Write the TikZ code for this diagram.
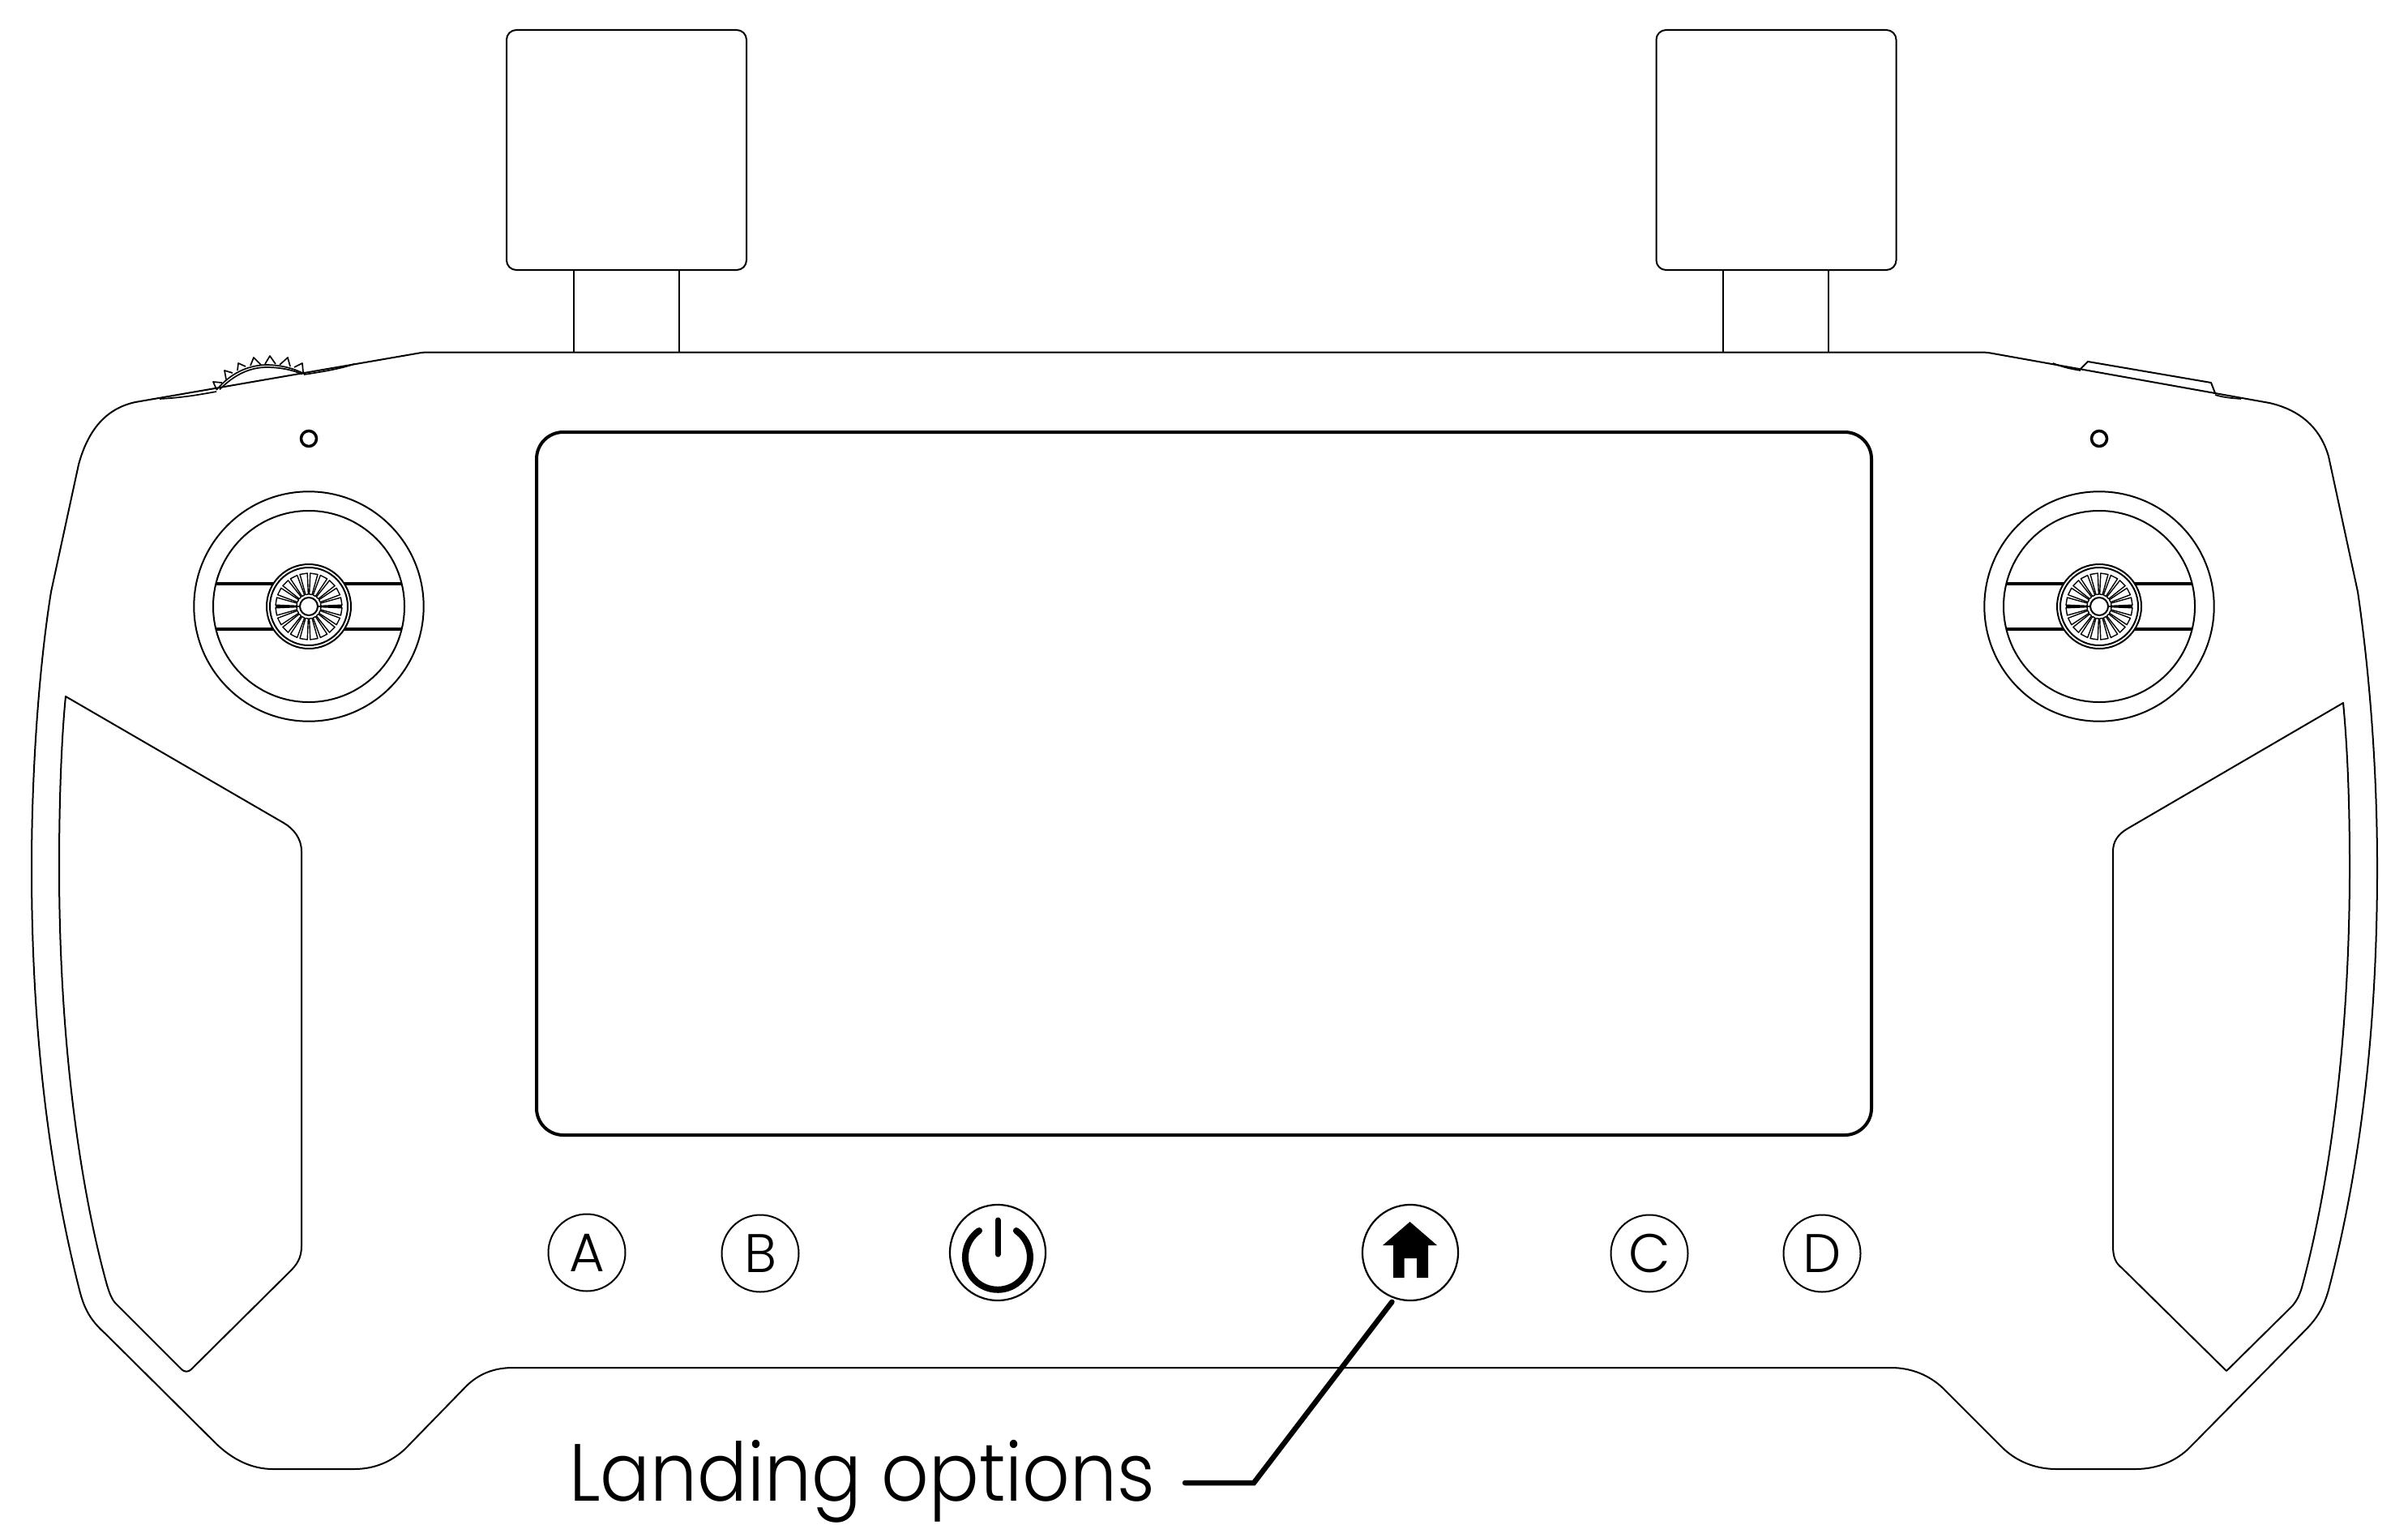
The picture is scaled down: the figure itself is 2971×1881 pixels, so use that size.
\documentclass[tikz,border=0pt]{standalone}
\usepackage{fontspec}
\usepackage{graphicx}
\setmainfont{Poppins Light}
\tikzset{
  outline/.style={draw=black,line width=2pt,line join=round},
  thinline/.style={draw=black,line width=1.7pt,line join=round},
  spoke/.style={draw=black,line width=1.4pt,line join=round},
  btn/.style={circle,draw=black,line width=2pt,minimum size=95pt,inner sep=0pt,font=\fontsize{67}{67}\selectfont},
  bigbtn/.style={circle,draw=black,line width=2.2pt,minimum size=118pt,inner sep=0pt},
  leader/.style={draw=black,line width=6.5pt,line cap=round,line join=miter},
  antenna/.style={draw=black,line width=2pt,rounded corners=12pt,minimum width=296pt,minimum height=296pt,inner sep=0pt},
  screen/.style={draw=black,line width=4pt,rounded corners=33pt,minimum width=1647pt,minimum height=867pt,inner sep=0pt},
  stick/.pic={
    \draw[outline] (0,0) circle[radius=141.7pt];
    \draw[outline] (0,0) circle[radius=118pt];
    \draw[line width=3.2pt] (-114.6,-28) -- (-44,-28) (44,-28) -- (114.6,-28);
    \draw[line width=3.2pt] (-114.6,28) -- (-44,28) (44,28) -- (114.6,28);
    \draw[outline] (0,0) circle[radius=52pt];
    \draw[outline] (0,0) circle[radius=48pt];
    \draw[outline] (0,0) circle[radius=11pt];
    \foreach \a in {0,18,...,342}{
      \draw[spoke] (\a+2.5:15) -- (\a+2.5:41) -- (\a+15.5:41) -- (\a+15.5:15) -- cycle;
    }
    \draw[spoke] (0:12) -- (0:41) (180:12) -- (180:41);
  },
}
\begin{document}
\begin{tikzpicture}[x=1pt,y=-1pt]
\useasboundingbox (0,0) rectangle (2971,1881);
\fill[white] (0,0) rectangle (2971,1881);

% antennas
\node[antenna] (antL) at (773,185) {};
\node[antenna] (antR) at (2191.5,185) {};
\draw[outline] (708,333) -- (708,435) (838,333) -- (838,435);
\draw[outline] (2126,333) -- (2126,435) (2256,333) -- (2256,435);

% body
\draw[outline]
  (530,434.5) -- (2440,434.5) .. controls (2447,434.5) and (2450,434.5) .. (2456,435.5)
  -- (2800,497) .. controls (2835,505) and (2862,525) .. (2873,563)
  -- (2909,730) .. controls (2925,840) and (2933,960) .. (2933,1070)
  .. controls (2933,1270) and (2912,1441) .. (2873,1591)
  .. controls (2867,1612) and (2860,1625) .. (2843,1642)
  -- (2703,1784) .. controls (2685,1803) and (2660,1812) .. (2635,1812)
  -- (2537,1812) .. controls (2512,1812) and (2488,1803) .. (2470,1785)
  -- (2397,1712) .. controls (2380,1696) and (2358,1687) .. (2333,1687)
  -- (633,1687) .. controls (612,1687) and (592,1693) .. (575,1710)
  -- (500,1787) .. controls (483,1803) and (462,1812) .. (437,1812)
  -- (337,1812) .. controls (310,1812) and (287,1800) .. (267,1781)
  -- (130,1645) .. controls (112,1629) and (104,1615) .. (98,1591)
  .. controls (60,1441) and (39,1270) .. (39,1070)
  .. controls (39,960) and (47,830) .. (63,730)
  -- (97,573) .. controls (110,525) and (135,503) .. (167,496)
  -- (517,435.5) .. controls (522,434.5) and (526,434.5) .. (530,434.5) -- cycle;

% slivers along the top edge
\draw[thinline] (197,492) .. controls (225,490.5) and (245,487) .. (267,483);
\draw[thinline] (375,462) .. controls (395,459) and (420,455) .. (437,449);
\draw[thinline] (2533,448) .. controls (2545,453) and (2555,455) .. (2567,457);
\draw[thinline] (2733,487) .. controls (2742,490) and (2752,491) .. (2765,492);

% wheel
\draw[thinline] (267,481) .. controls (285,460) and (305,451) .. (328,450)
  .. controls (345,450) and (362,454) .. (375,461);
\draw[thinline] (271,480.5) .. controls (288,463) and (307,453.5) .. (328,453)
  .. controls (345,453) and (360,456) .. (373,461.5);
\draw[thinline]
  (274,472) -- (263,471) -- (267,480)
  (287,460) -- (277,457) -- (279,468)
  (303,452) -- (294,448) -- (293,457)
  (322,450) -- (313,441) -- (309,451)
  (340,449) -- (333,439) -- (327,449)
  (358,452) -- (355,441) -- (345,450)
  (374,459) -- (373,448) -- (363,453);

% right slider
\draw[outline] (2567,455) -- (2576,446) -- (2728,472) -- (2733,485);

% leds
\draw[line width=3.5pt] (381,541) circle[radius=9.5pt];
\draw[line width=3.5pt] (2590,541) circle[radius=9.5pt];

% sticks
\pic at (381,748) {stick};
\pic at (2590,748) {stick};

% screen
\node[screen] (scr) at (1485.5,966.5) {};

% pads
\draw[outline] (81,859) -- (350,1015) .. controls (362,1022) and (372,1034) .. (372,1050)
  -- (372,1537) .. controls (372,1552) and (366,1560) .. (358,1568)
  -- (237,1688) .. controls (232,1693) and (228,1693) .. (223,1688)
  -- (143,1608) .. controls (138,1603) and (135,1595) .. (132,1585)
  .. controls (100,1470) and (73,1290) .. (73,1070)
  .. controls (73,1000) and (75,920) .. (81,859) -- cycle;
\draw[outline] (2891,867) -- (2625,1022) .. controls (2613,1029) and (2607,1038) .. (2607,1050)
  -- (2607,1537) .. controls (2607,1550) and (2610,1558) .. (2618,1564)
  -- (2747,1691) -- (2827,1612) .. controls (2833,1606) and (2837,1598) .. (2840,1588)
  .. controls (2872,1470) and (2899,1290) .. (2899,1070)
  .. controls (2899,1000) and (2897,930) .. (2891,867) -- cycle;

% buttons
\node[btn] (a) at (724,1545) {A};
\node[btn] (b) at (938,1546) {B};
\node[btn] (c) at (2035,1546) {C};
\node[btn] (d) at (2248,1546) {D};
\node[bigbtn] (pwr) at (1231,1545) {};
\node[bigbtn] (home) at (1740,1545) {};

% power glyph
\draw[line width=8pt,line cap=round] (1208,1518) arc[start angle=125,end angle=415,radius=40pt];
\draw[line width=7pt,line cap=round] (1231,1505) -- (1231,1547);

% home glyph
\fill (1739.5,1507) -- (1773,1536) -- (1762,1536) -- (1762,1576) -- (1748,1576) -- (1748,1552)
  -- (1732.6,1552) -- (1732.6,1576) -- (1719,1576) -- (1719,1536) -- (1706,1536) -- cycle;

% label and leader
\node[anchor=base west,inner sep=0pt,font=\fontsize{100}{100}\selectfont] (lab) at (702,1851) {\scalebox{0.915}[1]{Landing options}};
\coordinate (elbow) at (1547,1829);
\coordinate (leadend) at (1462,1829);
\draw[leader,shorten <=5pt] (home.-109) -- (elbow) -- (leadend);
\end{tikzpicture}
\end{document}
